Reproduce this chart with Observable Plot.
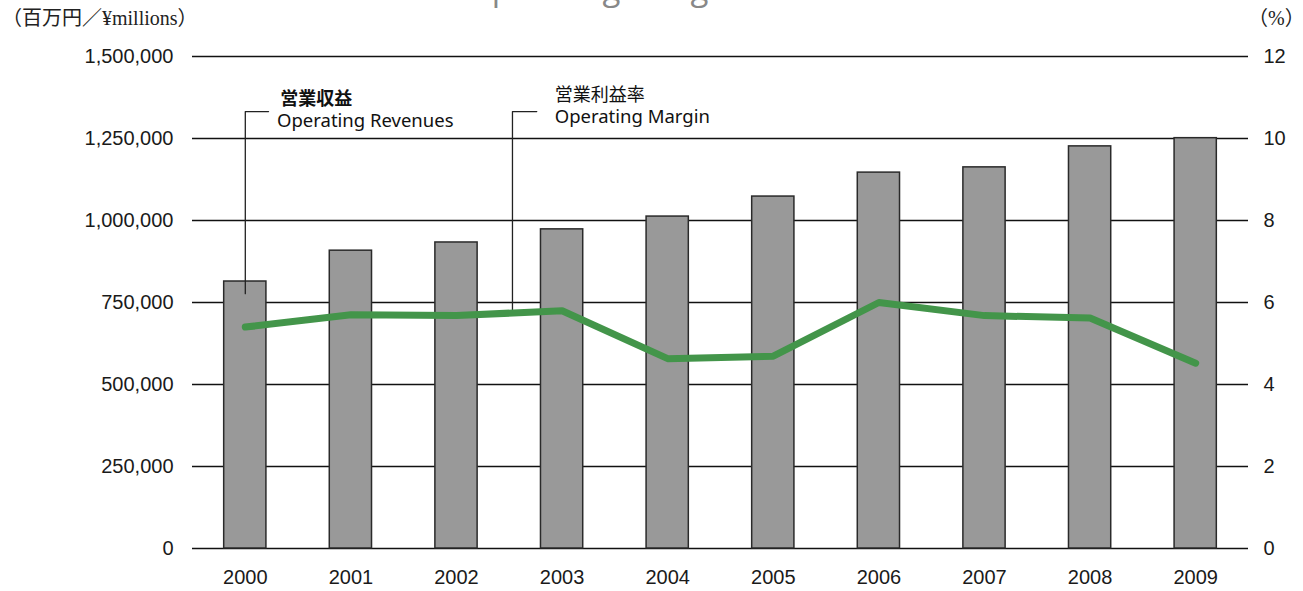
<!DOCTYPE html>
<html><head><meta charset="utf-8">
<script src="https://cdn.jsdelivr.net/npm/d3@7"></script>
<script src="https://cdn.jsdelivr.net/npm/@observablehq/plot@0.6"></script>
<style>
html,body{margin:0;padding:0;background:#fff;}
body{width:1303px;height:591px;overflow:hidden;position:relative;font-family:"Liberation Sans",Arial,sans-serif;}
#chart{position:absolute;left:0;top:0;}
#title{position:absolute;left:466px;top:-29px;font:33px/33px "Open Sans",sans-serif;color:#888;white-space:nowrap;z-index:2;}
.unit{position:absolute;top:6px;font:20px/24px "Liberation Serif","Noto Sans CJK JP",serif;color:#222;white-space:nowrap;z-index:2;}
</style></head><body>
<div id="title">Operating Margin</div>
<div class="unit" style="left:2px">（百万円／¥millions）</div>
<div class="unit" style="left:1248px">（%）</div>
<div id="chart"></div>
<script>
const years = [2000, 2001, 2002, 2003, 2004, 2005, 2006, 2007, 2008, 2009];
const revenues = [814000, 908000, 933000, 973000, 1012000, 1073000, 1146000, 1162000, 1226000, 1251000];
const margins = [5.4, 5.7, 5.68, 5.8, 4.63, 4.69, 6.0, 5.68, 5.62, 4.52];
const revenueTicks = [0, 250000, 500000, 750000, 1000000, 1250000, 1500000];
const marginTicks = [0, 2, 4, 6, 8, 10, 12];
const revenueLabel = ["営業収益", "Operating Revenues"];
const marginLabel = ["営業利益率", "Operating Margin"];

const data = years.map((year, i) => ({year, revenue: revenues[i], margin: margins[i]}));
const yMax = revenueTicks[revenueTicks.length - 1];
const mMax = marginTicks[marginTicks.length - 1];
const toY = m => m * yMax / mMax;
const fmt = d3.format(",");

// leader lines (annotation geometry)
const lead1 = [{x: years[0], y: 777000}, {x: years[0], y: 1332000}, {x: years[0] + 0.22, y: 1332000}];
const lead2 = [{x: 2002.53, y: 719000}, {x: 2002.53, y: 1332000}, {x: 2002.76, y: 1332000}];

const chart = Plot.plot({
  width: 1303,
  height: 591,
  marginTop: 56,
  marginBottom: 43,
  marginLeft: 192,
  marginRight: 55,
  style: {fontFamily: "'Liberation Sans', Arial, sans-serif", color: "#1a1a1a", background: "#fff"},
  x: {domain: [years[0] - 0.5, years[years.length - 1] + 0.5]},
  y: {domain: [0, yMax]},
  marks: [
    Plot.ruleY(revenueTicks, {stroke: "#111", strokeWidth: 1.7}),
    Plot.rectY(data, {x1: d => d.year - 0.2, x2: d => d.year + 0.2, y: "revenue", fill: "#999", stroke: "#2a2a2a", strokeWidth: 1.5}),
    Plot.line(lead1, {x: "x", y: "y", stroke: "#222", strokeWidth: 1.3}),
    Plot.line(lead2, {x: "x", y: "y", stroke: "#222", strokeWidth: 1.3}),
    Plot.line(data, {x: "year", y: d => toY(d.margin), stroke: "#43954a", strokeWidth: 7, strokeLinecap: "round", strokeLinejoin: "round"}),
    Plot.axisY(revenueTicks, {anchor: "left", tickSize: 0, tickPadding: 19, tickFormat: d => fmt(d), fontSize: 20, label: null}),
    Plot.axisY(marginTicks.map(toY), {anchor: "right", tickSize: 0, tickPadding: 15, tickFormat: d => String(Math.round(d * mMax / yMax)), fontSize: 20, label: null}),
    Plot.axisX(years, {tickSize: 0, tickPadding: 21, tickFormat: d => String(d), fontSize: 20, label: null}),
    Plot.text([revenueLabel[0]], {x: years[0] + 0.33, y: 1369000, text: d => d, textAnchor: "start", fontSize: 18, fontWeight: 600, fontFamily: "'Noto Sans CJK JP', sans-serif", fill: "#111"}),
    Plot.text([revenueLabel[1]], {x: years[0] + 0.30, y: 1302000, text: d => d, textAnchor: "start", fontSize: 18.5, fontFamily: "'Noto Sans', sans-serif", fill: "#111"}),
    Plot.text([marginLabel[0]], {x: 2002.93, y: 1381000, text: d => d, textAnchor: "start", fontSize: 18, fontFamily: "'Noto Sans CJK JP', sans-serif", fill: "#111"}),
    Plot.text([marginLabel[1]], {x: 2002.93, y: 1314000, text: d => d, textAnchor: "start", fontSize: 18.5, fontFamily: "'Noto Sans', sans-serif", fill: "#111"})
  ]
});
document.getElementById("chart").appendChild(chart);
</script>
</body></html>
